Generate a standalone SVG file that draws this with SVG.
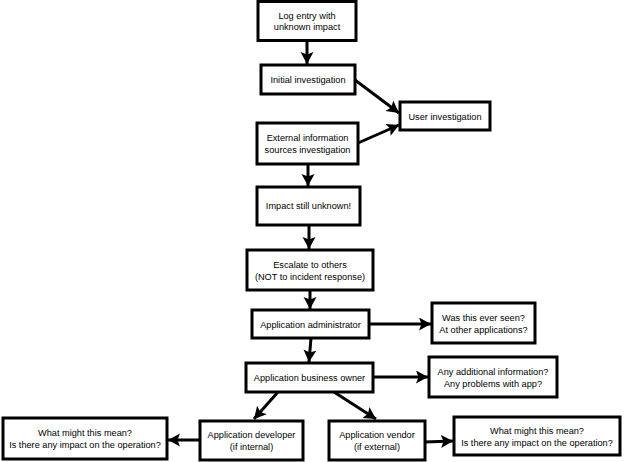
<svg xmlns="http://www.w3.org/2000/svg" width="624" height="462" viewBox="0 0 624 462">
<defs>
<style>
.box{fill:#fff;stroke:#000;stroke-width:3}
.t{font-family:"Liberation Sans",Arial,sans-serif;font-size:9.2px;fill:#000;text-anchor:middle}
.c{stroke:#000;stroke-width:3;fill:none;marker-end:url(#ah)}
</style>
<marker id="ah" markerUnits="userSpaceOnUse" markerWidth="14" markerHeight="14" refX="12" refY="6.5" orient="auto">
<path d="M0,0 L12,6.5 L0,13 L2.5,6.5 z" fill="#000"/>
</marker>
</defs>
<rect width="624" height="462" fill="#fff"/>
<g id="connectors">
<line class="c" x1="307" y1="41" x2="307" y2="64"/>
<line class="c" x1="355" y1="80" x2="399" y2="113"/>
<line class="c" x1="358" y1="143" x2="399" y2="125"/>
<line class="c" x1="308" y1="164" x2="308" y2="186"/>
<line class="c" x1="309" y1="225" x2="309" y2="249"/>
<line class="c" x1="310" y1="290" x2="310" y2="309"/>
<line class="c" x1="311" y1="338" x2="309" y2="362"/>
<line class="c" x1="369" y1="324" x2="431" y2="324"/>
<line class="c" x1="373" y1="377" x2="428" y2="377"/>
<line class="c" x1="278" y1="392" x2="254" y2="419"/>
<line class="c" x1="334" y1="392" x2="376" y2="419"/>
<line class="c" x1="200" y1="440" x2="168" y2="440"/>
<line class="c" x1="425" y1="442" x2="453" y2="441"/>
</g>
<g id="log-entry">
<rect class="box" x="258" y="1.5" width="98" height="39"/>
<text class="t" x="307" y="19">Log entry with</text>
<text class="t" x="307" y="30">unknown impact</text>
</g>
<g id="initial-investigation">
<rect class="box" x="261" y="65" width="94" height="29"/>
<text class="t" x="308" y="83">Initial investigation</text>
</g>
<g id="user-investigation">
<rect class="box" x="400" y="102" width="90" height="28"/>
<text class="t" x="445" y="119.5">User investigation</text>
</g>
<g id="external-sources">
<rect class="box" x="257" y="123" width="101" height="41"/>
<text class="t" x="307.5" y="141">External information</text>
<text class="t" x="307.5" y="152.5">sources investigation</text>
</g>
<g id="impact-unknown">
<rect class="box" x="257" y="187" width="103" height="38"/>
<text class="t" x="308.5" y="209">Impact still unknown!</text>
</g>
<g id="escalate">
<rect class="box" x="247" y="250" width="126" height="40"/>
<text class="t" x="310" y="268">Escalate to others</text>
<text class="t" x="310" y="279.5">(NOT to incident response)</text>
</g>
<g id="app-admin">
<rect class="box" x="252" y="310" width="117" height="28"/>
<text class="t" x="310.5" y="327.5">Application administrator</text>
</g>
<g id="was-seen">
<rect class="box" x="432" y="303" width="103" height="40"/>
<text class="t" x="483.5" y="321">Was this ever seen?</text>
<text class="t" x="483.5" y="332.5">At other applications?</text>
</g>
<g id="business-owner">
<rect class="box" x="246" y="363" width="127" height="29"/>
<text class="t" x="309.5" y="381">Application business owner</text>
</g>
<g id="additional-info">
<rect class="box" x="429" y="357" width="128" height="40"/>
<text class="t" x="493" y="375">Any additional information?</text>
<text class="t" x="493" y="386.5">Any problems with app?</text>
</g>
<g id="meaning-left">
<rect class="box" x="3" y="418" width="164" height="41"/>
<text class="t" x="85" y="436">What might this mean?</text>
<text class="t" x="85" y="447.5">Is there any impact on the operation?</text>
</g>
<g id="app-developer">
<rect class="box" x="200" y="421" width="103" height="39"/>
<text class="t" x="251.5" y="438">Application developer</text>
<text class="t" x="251.5" y="449.5">(if internal)</text>
</g>
<g id="app-vendor">
<rect class="box" x="329" y="421" width="96" height="39"/>
<text class="t" x="377" y="438">Application vendor</text>
<text class="t" x="377" y="449.5">(if external)</text>
</g>
<g id="meaning-right">
<rect class="box" x="454" y="417" width="166" height="38"/>
<text class="t" x="537" y="434">What might this mean?</text>
<text class="t" x="537" y="445.5">Is there any impact on the operation?</text>
</g>
</svg>
